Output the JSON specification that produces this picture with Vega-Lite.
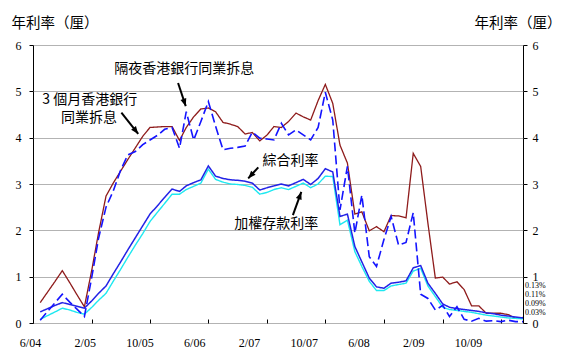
{
  "$schema": "https://vega.github.io/schema/vega-lite/v6.json",
  "width": 490,
  "height": 278,
  "autosize": {"type": "none"},
  "padding": {"left": 33, "top": 45, "right": 39, "bottom": 36},
  "background": "white",
  "config": {
    "view": {"stroke": "black", "strokeWidth": 1},
    "axis": {"labelFont": "Liberation Serif", "labelFontSize": 12, "labelColor": "black", "titleFont": "Noto Sans CJK TC", "titleFontSize": 14.5, "titleFontWeight": "normal", "titleColor": "black"}
  },
  "layer": [
    {
      "layer": [
        {
          "data": {"values": [
            {"month": "2004-07", "hibor3m": 0.44, "overnight": 0.06, "composite": 0.24, "deposit": 0.08},
            {"month": "2004-08", "hibor3m": 0.67, "overnight": 0.25, "composite": 0.31, "deposit": 0.16},
            {"month": "2004-09", "hibor3m": 0.90, "overnight": 0.44, "composite": 0.38, "deposit": 0.24},
            {"month": "2004-10", "hibor3m": 1.13, "overnight": 0.62, "composite": 0.44, "deposit": 0.32},
            {"month": "2004-11", "hibor3m": 0.87, "overnight": 0.45, "composite": 0.40, "deposit": 0.28},
            {"month": "2004-12", "hibor3m": 0.61, "overnight": 0.30, "composite": 0.36, "deposit": 0.23},
            {"month": "2005-01", "hibor3m": 0.35, "overnight": 0.14, "composite": 0.32, "deposit": 0.19},
            {"month": "2005-02", "hibor3m": 1.15, "overnight": 1.00, "composite": 0.48, "deposit": 0.34},
            {"month": "2005-03", "hibor3m": 1.95, "overnight": 1.83, "composite": 0.64, "deposit": 0.49},
            {"month": "2005-04", "hibor3m": 2.74, "overnight": 2.50, "composite": 0.80, "deposit": 0.64},
            {"month": "2005-05", "hibor3m": 3.02, "overnight": 2.85, "composite": 1.06, "deposit": 0.90},
            {"month": "2005-06", "hibor3m": 3.28, "overnight": 3.30, "composite": 1.32, "deposit": 1.16},
            {"month": "2005-07", "hibor3m": 3.53, "overnight": 3.63, "composite": 1.58, "deposit": 1.42},
            {"month": "2005-08", "hibor3m": 3.78, "overnight": 3.70, "composite": 1.84, "deposit": 1.68},
            {"month": "2005-09", "hibor3m": 4.03, "overnight": 3.85, "composite": 2.10, "deposit": 1.93},
            {"month": "2005-10", "hibor3m": 4.22, "overnight": 3.95, "composite": 2.35, "deposit": 2.19},
            {"month": "2005-11", "hibor3m": 4.23, "overnight": 4.05, "composite": 2.53, "deposit": 2.39},
            {"month": "2005-12", "hibor3m": 4.24, "overnight": 4.18, "composite": 2.71, "deposit": 2.58},
            {"month": "2006-01", "hibor3m": 4.24, "overnight": 4.22, "composite": 2.89, "deposit": 2.78},
            {"month": "2006-02", "hibor3m": 3.94, "overnight": 3.77, "composite": 2.84, "deposit": 2.78},
            {"month": "2006-03", "hibor3m": 4.22, "overnight": 4.56, "composite": 2.96, "deposit": 2.88},
            {"month": "2006-04", "hibor3m": 4.45, "overnight": 3.95, "composite": 3.03, "deposit": 2.95},
            {"month": "2006-05", "hibor3m": 4.62, "overnight": 4.35, "composite": 3.09, "deposit": 3.02},
            {"month": "2006-06", "hibor3m": 4.64, "overnight": 4.78, "composite": 3.39, "deposit": 3.32},
            {"month": "2006-07", "hibor3m": 4.56, "overnight": 4.25, "composite": 3.17, "deposit": 3.10},
            {"month": "2006-08", "hibor3m": 4.33, "overnight": 3.74, "composite": 3.12, "deposit": 3.04},
            {"month": "2006-09", "hibor3m": 4.29, "overnight": 3.77, "composite": 3.09, "deposit": 3.00},
            {"month": "2006-10", "hibor3m": 4.24, "overnight": 3.79, "composite": 3.08, "deposit": 2.99},
            {"month": "2006-11", "hibor3m": 4.08, "overnight": 3.82, "composite": 3.06, "deposit": 2.97},
            {"month": "2006-12", "hibor3m": 4.11, "overnight": 4.12, "composite": 3.02, "deposit": 2.93},
            {"month": "2007-01", "hibor3m": 3.93, "overnight": 3.99, "composite": 2.87, "deposit": 2.78},
            {"month": "2007-02", "hibor3m": 4.06, "overnight": 3.97, "composite": 2.92, "deposit": 2.82},
            {"month": "2007-03", "hibor3m": 4.24, "overnight": 3.95, "composite": 2.96, "deposit": 2.88},
            {"month": "2007-04", "hibor3m": 4.22, "overnight": 4.31, "composite": 3.00, "deposit": 2.92},
            {"month": "2007-05", "hibor3m": 4.35, "overnight": 4.06, "composite": 2.96, "deposit": 2.88},
            {"month": "2007-06", "hibor3m": 4.53, "overnight": 4.17, "composite": 3.03, "deposit": 2.95},
            {"month": "2007-07", "hibor3m": 4.45, "overnight": 4.06, "composite": 3.10, "deposit": 3.02},
            {"month": "2007-08", "hibor3m": 4.38, "overnight": 3.95, "composite": 2.99, "deposit": 2.92},
            {"month": "2007-09", "hibor3m": 4.80, "overnight": 4.22, "composite": 3.12, "deposit": 3.00},
            {"month": "2007-10", "hibor3m": 5.15, "overnight": 4.98, "composite": 3.33, "deposit": 3.17},
            {"month": "2007-11", "hibor3m": 4.74, "overnight": 4.38, "composite": 3.26, "deposit": 3.16},
            {"month": "2007-12", "hibor3m": 3.84, "overnight": 2.44, "composite": 2.30, "deposit": 2.12},
            {"month": "2008-01", "hibor3m": 3.45, "overnight": 3.38, "composite": 2.35, "deposit": 2.22},
            {"month": "2008-02", "hibor3m": 2.35, "overnight": 1.94, "composite": 1.65, "deposit": 1.54},
            {"month": "2008-03", "hibor3m": 2.40, "overnight": 2.76, "composite": 1.32, "deposit": 1.22},
            {"month": "2008-04", "hibor3m": 1.99, "overnight": 1.43, "composite": 0.97, "deposit": 0.90},
            {"month": "2008-05", "hibor3m": 2.08, "overnight": 1.22, "composite": 0.78, "deposit": 0.70},
            {"month": "2008-06", "hibor3m": 1.97, "overnight": 1.80, "composite": 0.75, "deposit": 0.70},
            {"month": "2008-07", "hibor3m": 2.32, "overnight": 2.30, "composite": 0.86, "deposit": 0.80},
            {"month": "2008-08", "hibor3m": 2.31, "overnight": 1.68, "composite": 0.88, "deposit": 0.83},
            {"month": "2008-09", "hibor3m": 2.27, "overnight": 1.74, "composite": 0.91, "deposit": 0.86},
            {"month": "2008-10", "hibor3m": 3.66, "overnight": 2.38, "composite": 1.19, "deposit": 1.12},
            {"month": "2008-11", "hibor3m": 3.38, "overnight": 0.62, "composite": 1.24, "deposit": 1.18},
            {"month": "2008-12", "hibor3m": 2.16, "overnight": 0.53, "composite": 0.86, "deposit": 0.80},
            {"month": "2009-01", "hibor3m": 0.97, "overnight": 0.28, "composite": 0.64, "deposit": 0.57},
            {"month": "2009-02", "hibor3m": 0.99, "overnight": 0.38, "composite": 0.41, "deposit": 0.34},
            {"month": "2009-03", "hibor3m": 0.84, "overnight": 0.14, "composite": 0.34, "deposit": 0.29},
            {"month": "2009-04", "hibor3m": 0.89, "overnight": 0.35, "composite": 0.31, "deposit": 0.27},
            {"month": "2009-05", "hibor3m": 0.72, "overnight": 0.08, "composite": 0.29, "deposit": 0.25},
            {"month": "2009-06", "hibor3m": 0.37, "overnight": 0.04, "composite": 0.27, "deposit": 0.23},
            {"month": "2009-07", "hibor3m": 0.37, "overnight": 0.10, "composite": 0.25, "deposit": 0.20},
            {"month": "2009-08", "hibor3m": 0.21, "overnight": 0.04, "composite": 0.22, "deposit": 0.17},
            {"month": "2009-09", "hibor3m": 0.21, "overnight": 0.05, "composite": 0.20, "deposit": 0.15},
            {"month": "2009-10", "hibor3m": 0.21, "overnight": 0.03, "composite": 0.17, "deposit": 0.13},
            {"month": "2009-11", "hibor3m": 0.18, "overnight": 0.06, "composite": 0.15, "deposit": 0.11},
            {"month": "2009-12", "hibor3m": 0.10, "overnight": 0.03, "composite": 0.13, "deposit": 0.10},
            {"month": "2010-01", "hibor3m": 0.12, "overnight": 0.03, "composite": 0.11, "deposit": 0.09}
          ]},
          "transform": [{"fold": ["hibor3m", "deposit", "composite", "overnight"], "as": ["series", "rate"]}],
          "mark": {"type": "line"},
          "encoding": {
            "x": {
              "field": "month", "type": "temporal",
              "scale": {"type": "utc", "domain": [{"year": 2004, "month": 6, "date": 1, "utc": true}, {"year": 2010, "month": 1, "date": 1, "utc": true}]},
              "axis": {
                "orient": "bottom", "labels": false, "grid": false, "domain": false, "title": null,
                "tickColor": "black", "tickSize": -4, "tickWidth": 1,
                "values": [
                  {"year": 2004, "month": 6, "date": 1, "utc": true},
                  {"year": 2004, "month": 10, "date": 1, "utc": true},
                  {"year": 2005, "month": 2, "date": 1, "utc": true},
                  {"year": 2005, "month": 6, "date": 1, "utc": true},
                  {"year": 2005, "month": 10, "date": 1, "utc": true},
                  {"year": 2006, "month": 2, "date": 1, "utc": true},
                  {"year": 2006, "month": 6, "date": 1, "utc": true},
                  {"year": 2006, "month": 10, "date": 1, "utc": true},
                  {"year": 2007, "month": 2, "date": 1, "utc": true},
                  {"year": 2007, "month": 6, "date": 1, "utc": true},
                  {"year": 2007, "month": 10, "date": 1, "utc": true},
                  {"year": 2008, "month": 2, "date": 1, "utc": true},
                  {"year": 2008, "month": 6, "date": 1, "utc": true},
                  {"year": 2008, "month": 10, "date": 1, "utc": true},
                  {"year": 2009, "month": 2, "date": 1, "utc": true},
                  {"year": 2009, "month": 6, "date": 1, "utc": true},
                  {"year": 2009, "month": 10, "date": 1, "utc": true}
                ]
              }
            },
            "y": {
              "field": "rate", "type": "quantitative",
              "scale": {"domain": [0, 6], "nice": false, "zero": true},
              "axis": {
                "orient": "left", "values": [0, 1, 2, 3, 4, 5, 6], "grid": true, "gridColor": "#b3b3b3", "gridWidth": 1,
                "domain": false, "tickColor": "black", "tickSize": 4, "labelPadding": 8,
                "title": "年利率（厘）", "titleAngle": 0, "titleAlign": "left", "titleBaseline": "middle", "titleX": -22, "titleY": -22
              }
            },
            "color": {"field": "series", "type": "nominal", "scale": {"domain": ["hibor3m", "deposit", "composite", "overnight"], "range": ["#8e1b1b", "#1ee8f0", "#2222e6", "#1414ff"]}, "legend": null},
            "strokeDash": {"field": "series", "type": "nominal", "scale": {"domain": ["hibor3m", "deposit", "composite", "overnight"], "range": [[1, 0], [1, 0], [1, 0], [9, 4]]}, "legend": null},
            "strokeWidth": {"field": "series", "type": "nominal", "scale": {"domain": ["hibor3m", "deposit", "composite", "overnight"], "range": [1.3, 1.6, 1.6, 2.9]}, "legend": null}
          }
        },
        {
          "data": {"values": [
            {"t": "隔夜香港銀行同業拆息", "m": "2005-05-05", "v": 5.48},
            {"t": "3 個月香港銀行", "m": "2004-07-10", "v": 4.82},
            {"t": "同業拆息", "m": "2004-09-26", "v": 4.43},
            {"t": "綜合利率", "m": "2007-01-12", "v": 3.50},
            {"t": "加權存款利率", "m": "2006-09-17", "v": 2.14}
          ]},
          "mark": {"type": "text", "align": "left", "baseline": "middle", "font": "Noto Sans CJK TC", "fontSize": 14, "color": "black"},
          "encoding": {
            "x": {"field": "m", "type": "temporal"},
            "y": {"field": "v", "type": "quantitative"},
            "text": {"field": "t"}
          }
        },
        {
          "data": {"values": [
            {"id": "a1", "m1": "2006-01-26", "v1": 5.18, "m2": "2006-02-27", "v2": 4.68},
            {"id": "a2", "m1": "2005-06-04", "v1": 4.54, "m2": "2005-08-13", "v2": 4.08},
            {"id": "a3", "m1": "2006-12-26", "v1": 3.36, "m2": "2006-11-14", "v2": 3.12},
            {"id": "a4", "m1": "2007-05-19", "v1": 2.33, "m2": "2007-06-23", "v2": 2.83}
          ]},
          "layer": [
            {
              "mark": {"type": "rule", "color": "black", "strokeWidth": 2},
              "encoding": {
                "x": {"field": "m1", "type": "temporal"},
                "y": {"field": "v1", "type": "quantitative"},
                "x2": {"field": "m2"},
                "y2": {"field": "v2"}
              }
            },
            {
              "mark": {"type": "point", "shape": "M0,0 L-0.4,1 L0.4,1 Z", "filled": true, "color": "black", "opacity": 1, "size": 230, "strokeWidth": 0},
              "encoding": {
                "x": {"field": "m2", "type": "temporal"},
                "y": {"field": "v2", "type": "quantitative"},
                "angle": {
                  "condition": [
                    {"test": "datum.id === 'a1'", "value": 161.7},
                    {"test": "datum.id === 'a2'", "value": 142.1},
                    {"test": "datum.id === 'a3'", "value": 222.3}
                  ],
                  "value": 19.8
                }
              }
            }
          ]
        },
        {
          "data": {"values": [
            {"t": "0.13%", "m": "2010-01-01", "v": 0.80},
            {"t": "0.11%", "m": "2010-01-01", "v": 0.605},
            {"t": "0.09%", "m": "2010-01-01", "v": 0.41},
            {"t": "0.03%", "m": "2010-01-01", "v": 0.215}
          ]},
          "mark": {"type": "text", "align": "left", "baseline": "middle", "dx": 2, "font": "Liberation Serif", "fontSize": 8, "color": "black"},
          "encoding": {
            "x": {"field": "m", "type": "temporal"},
            "y": {"field": "v", "type": "quantitative"},
            "text": {"field": "t"}
          }
        }
      ]
    },
    {
      "data": {"values": [{"r": 0}, {"r": 6}]},
      "mark": {"type": "point", "opacity": 0},
      "encoding": {
        "y": {
          "field": "r", "type": "quantitative",
          "scale": {"domain": [0, 6], "nice": false},
          "axis": {
            "orient": "right", "values": [0, 1, 2, 3, 4, 5, 6], "grid": false, "domain": false,
            "tickColor": "black", "tickSize": 4, "labelPadding": 5,
            "title": "年利率（厘）", "titleAngle": 0, "titleAlign": "left", "titleBaseline": "middle", "titleX": -49, "titleY": -22
          }
        }
      }
    },
    {
      "data": {"values": [{"lab": "6/04"}, {"lab": "2/05"}, {"lab": "10/05"}, {"lab": "6/06"}, {"lab": "2/07"}, {"lab": "10/07"}, {"lab": "6/08"}, {"lab": "2/09"}, {"lab": "10/09"}]},
      "mark": {"type": "point", "opacity": 0},
      "encoding": {
        "x": {
          "field": "lab", "type": "ordinal", "sort": null,
          "scale": {"type": "point", "domain": ["6/04", "2/05", "10/05", "6/06", "2/07", "10/07", "6/08", "2/09", "10/09"], "range": [-3, 435], "padding": 0},
          "axis": {"orient": "bottom", "ticks": false, "domain": false, "grid": false, "labelPadding": 14, "labelAngle": 0, "title": null}
        }
      }
    }
  ],
  "resolve": {"scale": {"x": "independent", "y": "independent"}, "axis": {"x": "independent", "y": "independent"}}
}
